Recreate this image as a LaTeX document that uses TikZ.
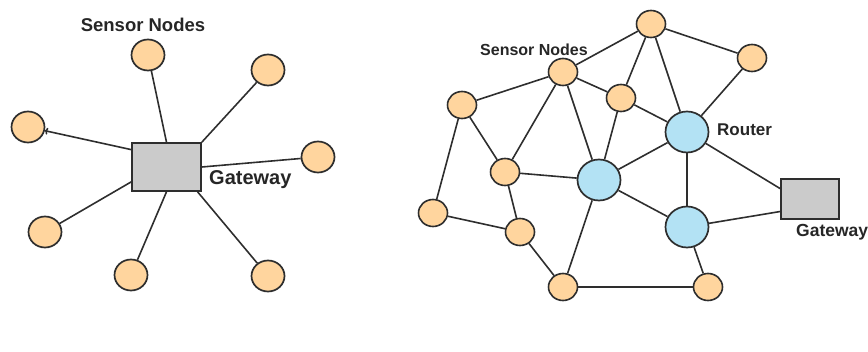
\documentclass[tikz,border=0pt]{standalone}
\usepackage{fontspec}
\setmainfont{Liberation Sans}
\usetikzlibrary{calc,arrows.meta,shapes.geometric}
\definecolor{sensorfill}{HTML}{FFD59E}
\definecolor{routerfill}{HTML}{B3E2F4}
\definecolor{gatefill}{HTML}{CBCBCB}
\definecolor{edgecol}{HTML}{2E2E2E}
\tikzset{
  sensorbig/.style={ellipse, draw=edgecol, line width=1.7pt, fill=sensorfill,
    minimum width=33pt, minimum height=31pt, inner sep=0pt},
  sensorsmall/.style={ellipse, draw=edgecol, line width=1.6pt, fill=sensorfill,
    minimum width=29pt, minimum height=27pt, inner sep=0pt},
  router/.style={ellipse, draw=edgecol, line width=1.7pt, fill=routerfill,
    minimum width=43pt, minimum height=41pt, inner sep=0pt},
  gatebox/.style={rectangle, draw=edgecol, line width=1.7pt, fill=gatefill, inner sep=0pt},
  link/.style={draw=edgecol, line width=1.6pt},
  lbl/.style={font=\bfseries, text=black!85, inner sep=0pt},
}
\begin{document}
\begin{tikzpicture}[x=1pt, y=-1pt]
  \useasboundingbox (0,0) rectangle (868,352);

  % ---------- star topology ----------
  \node[gatebox, minimum width=69pt, minimum height=48pt] (gw) at (166.5,167) {};
  \node[sensorbig] (s1) at (148,55) {};
  \node[sensorbig] (s2) at (268,70) {};
  \node[sensorbig] (s3) at (28,127) {};
  \node[sensorbig] (s4) at (318,157) {};
  \node[sensorbig] (s5) at (45,232) {};
  \node[sensorbig] (s6) at (131,275) {};
  \node[sensorbig] (s7) at (268,276) {};

  \node[lbl, font=\fontsize{18.5}{20}\selectfont\bfseries] (snl) at (143,25) {Sensor Nodes};
  \node[lbl, anchor=west, font=\fontsize{20}{22}\selectfont\bfseries] (gwl) at (209,180) {Gateway};

  \coordinate (gwA) at ($(gw.north west)!0.15!(gw.south west)$);
  \coordinate (gwB) at ($(gw.north west)!0.8!(gw.south west)$);
  \coordinate (gwC) at ($(gw.south west)!0.94!(gw.south east)$);

  \draw[link] (s1) -- (gw.north);
  \draw[link] (s2) -- (gw.north east);
  \draw[link, {To[length=3pt,width=7pt]}-] (s3) -- (gwA);
  \draw[link] (s4) -- (gw.east);
  \draw[link] (s5) -- (gwB);
  \draw[link] (s6) -- (gw.south);
  \draw[link] (s7) -- (gwC);

  % ---------- mesh topology ----------
  \node[sensorsmall] (A) at (651,24) {};
  \node[sensorsmall] (B) at (752,58) {};
  \node[sensorsmall] (C) at (563,72) {};
  \node[sensorsmall] (D) at (621,98) {};
  \node[sensorsmall] (E) at (462,105) {};
  \node[sensorsmall] (F) at (505,172) {};
  \node[sensorsmall] (G) at (433,213) {};
  \node[sensorsmall] (H) at (520,232) {};
  \node[sensorsmall] (I) at (563,287) {};
  \node[sensorsmall] (J) at (708,287) {};
  \node[router] (R1) at (687,132) {};
  \node[router] (R2) at (599,180) {};
  \node[router] (R3) at (687,227) {};
  \node[gatebox, minimum width=58pt, minimum height=40pt] (gw2) at (810,199) {};

  \node[lbl, font=\fontsize{16}{18}\selectfont\bfseries] (snr) at (534,50) {Sensor Nodes};
  \node[lbl, anchor=west, font=\fontsize{17}{19}\selectfont\bfseries] (rl) at (717,130) {Router};
  \node[lbl, anchor=west, font=\fontsize{17.5}{19}\selectfont\bfseries] (gwr) at (796,232) {Gateway};

  \coordinate (g2A) at ($(gw2.north west)!0.25!(gw2.south west)$);
  \coordinate (g2B) at ($(gw2.north west)!0.8!(gw2.south west)$);

  \draw[link] (A) -- (C);
  \draw[link] (A) -- (D);
  \draw[link] (A) -- (R1);
  \draw[link] (A) -- (B);
  \draw[link] (B) -- (R1);
  \draw[link] (C) -- (E);
  \draw[link] (C) -- (D);
  \draw[link] (C) -- (F);
  \draw[link] (C) -- (R2);
  \draw[link] (D) -- (R1);
  \draw[link] (D) -- (R2);
  \draw[link] (E) -- (F);
  \draw[link] (E) -- (G);
  \draw[link] (F) -- (R2);
  \draw[link] (F) -- (H);
  \draw[link] (G) -- (H);
  \draw[link] (H) -- (I);
  \draw[link] (R2) -- (R1);
  \draw[link] (R2) -- (R3);
  \draw[link] (R2) -- (I);
  \draw[link] (R1) -- (R3);
  \draw[link] (R1) -- (g2A);
  \draw[link] (R3) -- (g2B);
  \draw[link] (R3) -- (J);
  \draw[link, line width=1.1pt] (I) -- (J);
\end{tikzpicture}
\end{document}
